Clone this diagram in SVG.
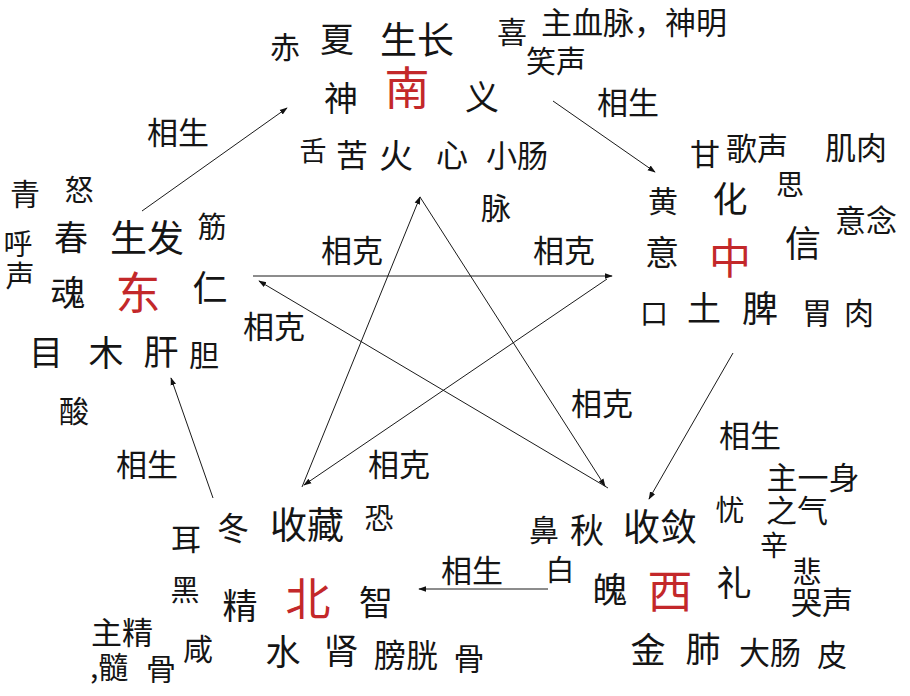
<svg xmlns="http://www.w3.org/2000/svg" width="910" height="696" viewBox="0 0 910 696">
<style>
text{font-family:"Noto Sans CJK SC","Noto Sans",sans-serif;fill:#151515;text-anchor:middle}
.s{font-size:30px}
.m{font-size:34px}
.l{font-size:37px}
.r{font-size:45px;fill:#c3282a}
.lbl{font-size:31px}
.ln{stroke:#1a1a1a;stroke-width:1;fill:none;marker-end:url(#ah)}
</style>
<defs>
<marker id="ah" viewBox="0 0 10 10" refX="9" refY="5" markerWidth="8" markerHeight="8" markerUnits="userSpaceOnUse" orient="auto">
<path d="M0,1.5 L10,5 L0,8.5 Z" fill="#111"/>
</marker>
</defs>
<rect width="910" height="696" fill="#fff"/>

<g id="connectors">
<line class="ln" x1="142" y1="211" x2="287" y2="108"/>
<line class="ln" x1="553" y1="101" x2="655" y2="172"/>
<line class="ln" x1="733" y1="353" x2="649" y2="499"/>
<line class="ln" x1="548" y1="589" x2="419" y2="589"/>
<line class="ln" x1="213" y1="498" x2="171" y2="378"/>
<line class="ln" x1="253" y1="276" x2="612" y2="276"/>
<line class="ln" x1="607" y1="279" x2="304" y2="485"/>
<line class="ln" x1="302" y1="487" x2="420" y2="197"/>
<line class="ln" x1="420" y1="197" x2="605" y2="486"/>
<line class="ln" x1="608" y1="488" x2="259" y2="281"/>
<text class="lbl" x="178" y="144">相生</text>
<text class="lbl" x="628" y="114">相生</text>
<text class="lbl" x="750" y="447">相生</text>
<text class="lbl" x="472" y="582">相生</text>
<text class="lbl" x="147" y="476">相生</text>
<text class="lbl" x="352" y="262">相克</text>
<text class="lbl" x="564" y="262">相克</text>
<text class="lbl" x="274" y="338">相克</text>
<text class="lbl" x="602" y="415">相克</text>
<text class="lbl" x="399" y="476">相克</text>
</g>

<g id="south">
<text class="s" x="285" y="58">赤</text>
<text class="m" x="337" y="52">夏</text>
<text class="l" x="417" y="54">生长</text>
<text class="s" x="512" y="43">喜</text>
<text class="s" x="541" y="34" style="text-anchor:start;font-size:31px">主血脉，神明</text>
<text class="s" x="556" y="72">笑声</text>
<text class="m" x="341" y="111">神</text>
<text class="r" x="407" y="105">南</text>
<text class="m" x="482" y="110">义</text>
<text class="s" x="313" y="161" style="font-size:27px">舌</text>
<text class="s" x="352" y="167" style="font-size:32px">苦</text>
<text class="m" x="396" y="168">火</text>
<text class="s" x="452" y="167" style="font-size:32px">心</text>
<text class="s" x="517" y="167" style="font-size:31px">小肠</text>
<text class="s" x="496" y="219">脉</text>
</g>

<g id="east">
<text class="s" x="25" y="205">青</text>
<text class="s" x="79" y="201" style="font-size:29px">怒</text>
<text class="m" x="71" y="250">春</text>
<text class="l" x="147" y="252">生发</text>
<text class="s" x="212" y="238" style="font-size:29px">筋</text>
<text class="s" x="18" y="255" style="font-size:29px">呼</text>
<text class="s" x="20" y="287" style="font-size:29px">声</text>
<text class="m" x="68" y="306" style="font-size:35px">魂</text>
<text class="r" x="138" y="310">东</text>
<text class="m" x="210" y="301" style="font-size:35px">仁</text>
<text class="m" x="46" y="365">目</text>
<text class="m" x="106" y="366" style="font-size:35px">木</text>
<text class="m" x="161" y="365" style="font-size:35px">肝</text>
<text class="s" x="204" y="366">胆</text>
<text class="s" x="74" y="422">酸</text>
</g>

<g id="center">
<text class="s" x="705" y="165">甘</text>
<text class="s" x="757" y="160" style="font-size:31px">歌声</text>
<text class="s" x="856" y="159" style="font-size:31px">肌肉</text>
<text class="s" x="790" y="195" style="font-size:28px">思</text>
<text class="s" x="663" y="212">黄</text>
<text class="m" x="730" y="212" style="font-size:35px">化</text>
<text class="s" x="866" y="232" style="font-size:31px">意念</text>
<text class="m" x="662" y="265">意</text>
<text class="r" x="730" y="274" style="font-size:42px">中</text>
<text class="m" x="803" y="257" style="font-size:36px">信</text>
<text class="s" x="654" y="324" style="font-size:28px">口</text>
<text class="m" x="704" y="321">土</text>
<text class="m" x="760" y="322" style="font-size:36px">脾</text>
<text class="s" x="817" y="324">胃</text>
<text class="s" x="859" y="324">肉</text>
</g>

<g id="west">
<text class="s" x="730" y="521" style="font-size:29px">忧</text>
<text class="s" x="813" y="489" style="font-size:31px">主一身</text>
<text class="s" x="797" y="522" style="font-size:31px">之气</text>
<text class="s" x="774" y="556" style="font-size:28px">辛</text>
<text class="s" x="544" y="541">鼻</text>
<text class="m" x="587" y="543">秋</text>
<text class="l" x="660" y="541">收敛</text>
<text class="s" x="560" y="581" style="font-size:29px">白</text>
<text class="m" x="610" y="603" style="font-size:35px">魄</text>
<text class="r" x="670" y="608">西</text>
<text class="m" x="734" y="596" style="font-size:35px">礼</text>
<text class="s" x="807" y="583" style="font-size:29px">悲</text>
<text class="s" x="822" y="614" style="font-size:31px">哭声</text>
<text class="m" x="648" y="663" style="font-size:35px">金</text>
<text class="m" x="703" y="662" style="font-size:35px">肺</text>
<text class="s" x="770" y="664" style="font-size:31px">大肠</text>
<text class="s" x="832" y="666">皮</text>
</g>

<g id="north">
<text class="s" x="186" y="550">耳</text>
<text class="s" x="233" y="540" style="font-size:32px">冬</text>
<text class="l" x="307" y="539">收藏</text>
<text class="s" x="379" y="529" style="font-size:29px">恐</text>
<text class="s" x="185" y="601" style="font-size:29px">黑</text>
<text class="m" x="240" y="619" style="font-size:35px">精</text>
<text class="r" x="308" y="616">北</text>
<text class="m" x="376" y="615">智</text>
<text class="s" x="122" y="644" style="font-size:31px">主精</text>
<text class="s" x="90" y="678" style="text-anchor:start">,髓</text>
<text class="s" x="161" y="680">骨</text>
<text class="s" x="198" y="660">咸</text>
<text class="m" x="283" y="665" style="font-size:35px">水</text>
<text class="m" x="341" y="664" style="font-size:35px">肾</text>
<text class="s" x="406" y="667" style="font-size:32px">膀胱</text>
<text class="s" x="469" y="670" style="font-size:31px">骨</text>
</g>
</svg>
